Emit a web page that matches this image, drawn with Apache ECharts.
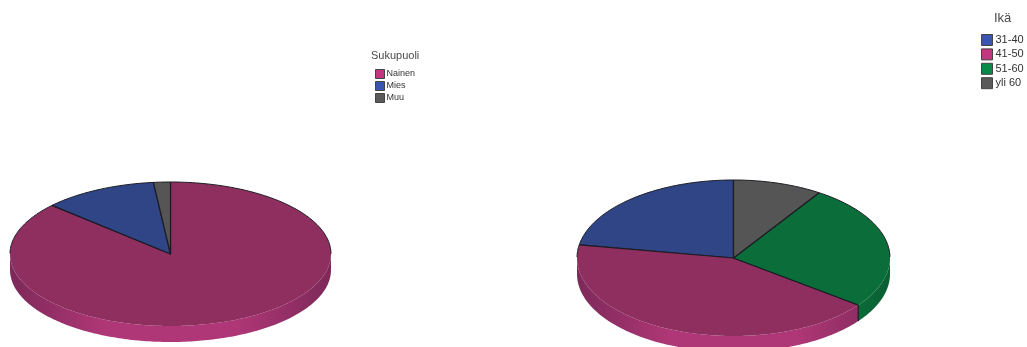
<!DOCTYPE html>
<html>
<head>
<meta charset="utf-8">
<style>html,body{margin:0;padding:0;background:#fff}#chart{width:1027px;height:347px}</style>
<script src="https://cdn.jsdelivr.net/npm/echarts@6/dist/echarts.min.js"></script>
</head>
<body>
<div id="chart"></div>
<script>
// Survey respondents, shares in percent
const genderCategories = ['Nainen', 'Mies', 'Muu'];
const genderValues = [86.8, 11.5, 1.7];
const ageCategories = ['31-40', '41-50', '51-60', 'yli 60'];
const ageValues = [22.3, 42.4, 26.1, 9.2];

// Slice paint: top face, wall at the far ends, wall at the front, legend swatch
const palette = {
  magenta: { top: '#8e2f60', wallEdge: '#7d2959', wallFront: '#b03777', swatch: '#c2357f' },
  blue:    { top: '#2f4585', wallEdge: '#263a70', wallFront: '#3a53a0', swatch: '#3a55b0' },
  grey:    { top: '#555555', wallEdge: '#444444', wallFront: '#666666', swatch: '#5a5a5a' },
  green:   { top: '#0b6e3a', wallEdge: '#0a5f32', wallFront: '#0e8045', swatch: '#0a8a48' }
};
const genderPaint = [palette.magenta, palette.blue, palette.grey];
const agePaint = [palette.blue, palette.magenta, palette.green, palette.grey];

const STROKE = '#1c1c24';
const genderPie = { cx: 170.5, cy: 254, rx: 160.5, ry: 72, depth: 16, direction: 1,
  values: genderValues, paint: genderPaint };
const agePie = { cx: 733.5, cy: 258, rx: 156.5, ry: 78, depth: 16, direction: -1,
  values: ageValues, paint: agePaint };

// Angle is measured in degrees clockwise from twelve o'clock on the tilted disc
function rimPoint(pie, deg, drop) {
  const a = deg * Math.PI / 180;
  return [pie.cx + pie.rx * Math.sin(a), pie.cy - pie.ry * Math.cos(a) + (drop || 0)];
}

function sampleAngles(from, to) {
  const out = [];
  const n = Math.max(2, Math.ceil(Math.abs(to - from)));
  for (let i = 0; i <= n; i++) out.push(from + (to - from) * i / n);
  return out;
}

function isFront(deg) {
  return Math.cos(deg * Math.PI / 180) < 0;
}

function lineEl(points, width) {
  return {
    type: 'polyline',
    shape: { points: points },
    style: { fill: null, stroke: STROKE, lineWidth: width, lineJoin: 'round' },
    silent: true
  };
}

function renderSlice(pie, index) {
  const total = pie.values.reduce((s, v) => s + v, 0);
  const before = pie.values.slice(0, index).reduce((s, v) => s + v, 0);
  const span = 360 * pie.direction / total;
  const start = before * span;
  const end = (before + pie.values[index]) * span;
  const paint = pie.paint[index];
  const arc = sampleAngles(start, end);
  const children = [];

  // Side wall: only the part of the rim that faces the viewer
  const front = arc.filter(isFront);
  if (front.length > 1) {
    const upper = front.map(d => rimPoint(pie, d, 0));
    const lower = front.map(d => rimPoint(pie, d, pie.depth)).reverse();
    children.push({
      type: 'polygon',
      shape: { points: upper.concat(lower) },
      style: {
        fill: {
          type: 'linear', global: true,
          x: pie.cx - pie.rx, y: 0, x2: pie.cx + pie.rx, y2: 0,
          colorStops: [
            { offset: 0, color: paint.wallEdge },
            { offset: 0.3, color: paint.wallFront },
            { offset: 0.7, color: paint.wallFront },
            { offset: 1, color: paint.wallEdge }
          ]
        }
      },
      silent: true
    });
  }

  // Top face
  const centre = [pie.cx, pie.cy];
  children.push({
    type: 'polygon',
    shape: { points: [centre].concat(arc.map(d => rimPoint(pie, d, 0))) },
    style: { fill: paint.top },
    silent: true
  });

  // Dark outline: both radii, and the rim along the back of the disc
  children.push(lineEl([rimPoint(pie, start, 0), centre, rimPoint(pie, end, 0)], 1.2));
  let run = [];
  arc.forEach(d => {
    if (!isFront(d)) {
      run.push(rimPoint(pie, d, 0));
    } else {
      if (run.length > 1) children.push(lineEl(run, 1));
      run = [];
    }
  });
  if (run.length > 1) children.push(lineEl(run, 1));

  // Seam down the wall where two slices meet on the front
  [start, end].forEach(d => {
    if (isFront(d)) children.push(lineEl([rimPoint(pie, d, 0), rimPoint(pie, d, pie.depth)], 1));
  });

  return { type: 'group', children: children };
}

function sliceSeries(pie, names) {
  return names.map((name, i) => ({
    type: 'custom',
    name: name,
    coordinateSystem: 'none',
    silent: true,
    itemStyle: { color: pie.paint[i].swatch },
    data: [pie.values[i]],
    renderItem: () => renderSlice(pie, i)
  }));
}

function legendItems(names, paints, border) {
  return names.map((name, i) => ({
    name: name,
    icon: 'rect',
    itemStyle: { color: paints[i].swatch, borderColor: border, borderWidth: 1 }
  }));
}

const chart = echarts.init(document.getElementById('chart'), null, { renderer: 'canvas' });
chart.setOption({
  animation: false,
  backgroundColor: '#ffffff',
  title: [
    { text: 'Sukupuoli', left: 371, top: 50, padding: 0,
      textStyle: { fontFamily: 'Liberation Sans', fontSize: 11, fontWeight: 'normal', color: '#4a4a4a' } },
    { text: 'Ikä', left: 994, top: 12, padding: 0,
      textStyle: { fontFamily: 'Liberation Sans', fontSize: 13, fontWeight: 'normal', color: '#4a4a4a' } }
  ],
  legend: [
    { orient: 'vertical', left: 375, top: 69, padding: 0, itemWidth: 9, itemHeight: 9, itemGap: 2,
      selectedMode: false,
      textStyle: { fontFamily: 'Liberation Sans', fontSize: 9, color: '#333333', padding: [0, 0, 0, -3] },
      data: legendItems(genderCategories, genderPaint, '#444444') },
    { orient: 'vertical', left: 981, top: 34, padding: 0, itemWidth: 11, itemHeight: 11, itemGap: 2.4,
      selectedMode: false,
      textStyle: { fontFamily: 'Liberation Sans', fontSize: 11, color: '#333333', padding: [0, 0, 0, -2] },
      data: legendItems(ageCategories, agePaint, '#444444') }
  ],
  series: sliceSeries(genderPie, genderCategories).concat(sliceSeries(agePie, ageCategories))
});
</script>
</body>
</html>
